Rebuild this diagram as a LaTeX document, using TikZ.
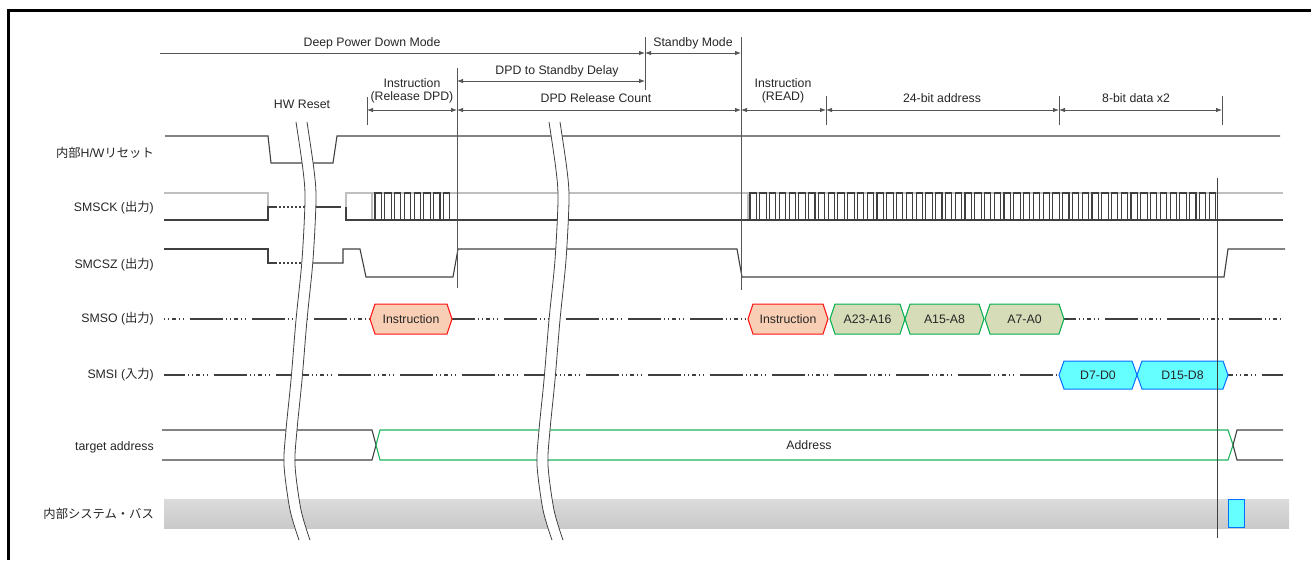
\documentclass[tikz,border=0pt]{standalone}
\usepackage{fontspec}
\setmainfont{Liberation Sans}
\newfontfamily\jpf{Noto Sans CJK JP}
\usetikzlibrary{arrows.meta}
\definecolor{sigc}{HTML}{404040}
\definecolor{annc}{HTML}{555555}
\definecolor{txtc}{HTML}{262626}
\definecolor{grayc}{HTML}{BFBFBF}
\definecolor{insfill}{HTML}{F8CFB4}
\definecolor{insdraw}{HTML}{FF1010}
\definecolor{adrfill}{HTML}{D5DCB7}
\definecolor{adrdraw}{HTML}{00B050}
\definecolor{datfill}{HTML}{66FFFF}
\definecolor{datdraw}{HTML}{0070FF}
\definecolor{busgreen}{HTML}{1DB35A}
\tikzset{
  sig/.style={draw=sigc, line width=1.1pt},
  graysig/.style={draw=grayc, line width=1.1pt},
  dotsig/.style={draw=sigc, line width=1.1pt, dash pattern=on 2pt off 2pt},
  dashdot/.style={draw=sigc, line width=1.1pt, dash pattern=on 33pt off 3pt on 1.3pt off 2.7pt on 1.3pt off 2.7pt on 4pt off 2.5pt on 1.3pt off 2.7pt on 1.3pt off 6.2pt},
  ann/.style={draw=annc, line width=0.8pt},
  arr/.style={ann, {Latex[length=6pt,width=4.5pt]}-{Latex[length=6pt,width=4.5pt]}},
  rarr/.style={ann, -{Latex[length=6pt,width=4.5pt]}},
  brk/.style={draw=sigc, line width=0.8pt},
  lbl/.style={anchor=east, text=txtc, inner sep=0pt},
  txt/.style={text=txtc, inner sep=0pt},
  insbox/.style={fill=insfill, draw=insdraw, line width=1pt},
  adrbox/.style={fill=adrfill, draw=adrdraw, line width=1pt},
  datbox/.style={fill=datfill, draw=datdraw, line width=1pt},
}
\newcommand{\mkhex}[5]{%
  \draw[#3] (#1,\hy) -- ({#1+5},{\hy-\hh}) -- ({#2-5},{\hy-\hh}) -- (#2,\hy) -- ({#2-5},{\hy+\hh}) -- ({#1+5},{\hy+\hh}) -- cycle;
  \node[txt] (#4) at ({(#1+#2)/2},\hy) {#5};}
\newcommand{\mkbreak}[1]{%
  \begin{scope}[xshift=#1pt]
    \fill[white] plot[smooth] coordinates {(296,122) (303,170) (305,200) (302,260) (296,320) (291,380) (286,430) (284,465) (290,510) (299,540)}
      -- plot[smooth] coordinates {(310,540) (301,510) (295,465) (297,430) (302,380) (307,320) (313,260) (316,200) (314,170) (307,122)} -- cycle;
    \draw[brk] plot[smooth] coordinates {(296,122) (303,170) (305,200) (302,260) (296,320) (291,380) (286,430) (284,465) (290,510) (299,540)};
    \draw[brk] plot[smooth] coordinates {(307,122) (314,170) (316,200) (313,260) (307,320) (302,380) (297,430) (295,465) (301,510) (310,540)};
  \end{scope}}
\begin{document}
\begin{tikzpicture}[x=1pt,y=-1pt,font=\fontsize{12.3}{14}\selectfont]
\useasboundingbox (0,0) rectangle (1311,560);
% frame (top and left edges only)
\draw[line width=3pt,black] (8,560) -- (8,10) -- (1311,10);

% ---------- labels ----------
\node[lbl] (lrst) at (154,153) {{\jpf 内部}H/W{\jpf リセット}};
\node[lbl] (lsck) at (154,208) {SMSCK ({\jpf 出力})};
\node[lbl] (lcsz) at (154,265) {SMCSZ ({\jpf 出力})};
\node[lbl] (lso)  at (154,319) {SMSO ({\jpf 出力})};
\node[lbl] (lsi)  at (154,375) {SMSI ({\jpf 入力})};
\node[lbl] (ltad) at (154,447) {target address};
\node[lbl] (lbus) at (154,514) {{\jpf 内部システム・バス}};

% ---------- internal bus band ----------
\shade[top color=black!14, bottom color=black!21] (164,499) rectangle (1289,528);

% ---------- internal H/W reset ----------
\draw[sig] (165,136) -- (268,136) -- (271,163) -- (333,163) -- (337,136) -- (1280,136);

% ---------- SMSCK ----------
\draw[graysig] (164,193) -- (268,193) -- (268,207);
\draw[sig] (164,220) -- (268,220) -- (268,207) -- (275,207);
\draw[dotsig] (275,207) -- (312,207);
\draw[sig] (312,207) -- (341,207);
\draw[graysig] (346,207) -- (346,193) -- (1283,193);
\draw[graysig] (372,193) -- (372,220);
\draw[graysig] (748,193) -- (748,220);
\draw[sig] (346,207) -- (346,220) -- (1283,220);
\foreach \i in {0,...,7}{
  \draw[sig] ({375+\i*9.77},220) -- ({375+\i*9.77},193) -- ({381.35+\i*9.77},193) -- ({381.35+\i*9.77},220);
}
\foreach \i in {0,...,47}{
  \draw[sig] ({750+\i*9.77},220) -- ({750+\i*9.77},193) -- ({756.35+\i*9.77},193) -- ({756.35+\i*9.77},220);
}

% ---------- SMCSZ ----------
\draw[sig] (164,249) -- (268,249) -- (268,263) -- (275,263);
\draw[dotsig] (275,263) -- (310,263);
\draw[sig] (310,263) -- (343,263) -- (343,249) -- (360,249) -- (366,277) -- (453,277) -- (458,249)
  -- (737,249) -- (742,277) -- (1224,277) -- (1228,249) -- (1285,249);

% ---------- SMSO ----------
\draw[dashdot, dash phase=36pt] (164,319) -- (370,319);
\draw[dashdot, dash phase=10pt] (452,319) -- (748,319);
\draw[dashdot, dash phase=20pt] (1063,319) -- (1283,319);
\def\hy{319}\def\hh{15}
\mkhex{370}{452}{insbox}{so1}{Instruction}
\mkhex{748}{828}{insbox}{so2}{Instruction}
\mkhex{830}{905}{adrbox}{so3}{A23-A16}
\mkhex{905}{984}{adrbox}{so4}{A15-A8}
\mkhex{985}{1064}{adrbox}{so5}{A7-A0}

% ---------- SMSI ----------
\draw[dashdot, dash phase=12pt] (164,375) -- (1059,375);
\draw[dashdot, dash phase=28pt] (1228,375) -- (1283,375);
\def\hy{375}\def\hh{14}
\mkhex{1059}{1137}{datbox}{si1}{D7-D0}
\mkhex{1137}{1228}{datbox}{si2}{D15-D8}

% ---------- target address ----------
\draw[sig] (162,430) -- (372,430) -- (376,445) -- (372,460) -- (162,460);
\draw[draw=busgreen, line width=1.1pt] (376,445) -- (380,430) -- (1228,430) -- (1233,445) -- (1228,460) -- (380,460) -- cycle;
\draw[sig] (1283,430) -- (1237,430) -- (1233,445) -- (1237,460) -- (1283,460);
\node[txt] (addr) at (809,445) {Address};

% ---------- bus access ----------
\draw[datbox] (1228,499) rectangle (1244,527);

% ---------- breaks ----------
\mkbreak{0}
\mkbreak{253}

% ---------- marker lines ----------
\draw[ann] (367,97) -- (367,125);
\draw[ann] (457,68) -- (457,288);
\draw[ann] (645,37) -- (645,90);
\draw[ann] (741,37) -- (741,290);
\draw[ann] (826,96) -- (826,125);
\draw[ann] (1059,96) -- (1059,125);
\draw[ann] (1222,96) -- (1222,125);
\draw[draw=sigc, line width=0.9pt] (1217,178) -- (1217,538);

% ---------- dimension arrows ----------
\coordinate (dpdL) at (160,53);
\coordinate (dpdR) at (645,53);
\coordinate (stbR) at (741,53);
\draw[rarr] (dpdL) -- (dpdR);
\draw[arr] (dpdR) -- (stbR);
\draw[arr] (457,81) -- (645,81);
\draw[arr] (367,110) -- (457,110);
\draw[arr] (457,110) -- (741,110);
\draw[arr] (741,110) -- (826,110);
\draw[arr] (826,110) -- (1059,110);
\draw[arr] (1059,110) -- (1222,110);

\node[txt] (tdpd) at (372,43) {Deep Power Down Mode};
\node[txt] (tstb) at (693,43) {Standby Mode};
\node[txt] (tdel) at (557,71) {DPD to Standby Delay};
\node[txt] (tcnt) at (596,98) {DPD Release Count};
\node[txt] (tir1) at (412,83) {Instruction};
\node[txt] (tir2) at (412,97) {(Release DPD)};
\node[txt] (trd1) at (783,83) {Instruction};
\node[txt] (trd2) at (783,97) {(READ)};
\node[txt] (t24) at (942,98) {24-bit address};
\node[txt] (t8) at (1136,98) {8-bit data x2};
\node[txt] (thw) at (302,104) {HW Reset};
\end{tikzpicture}
\end{document}
